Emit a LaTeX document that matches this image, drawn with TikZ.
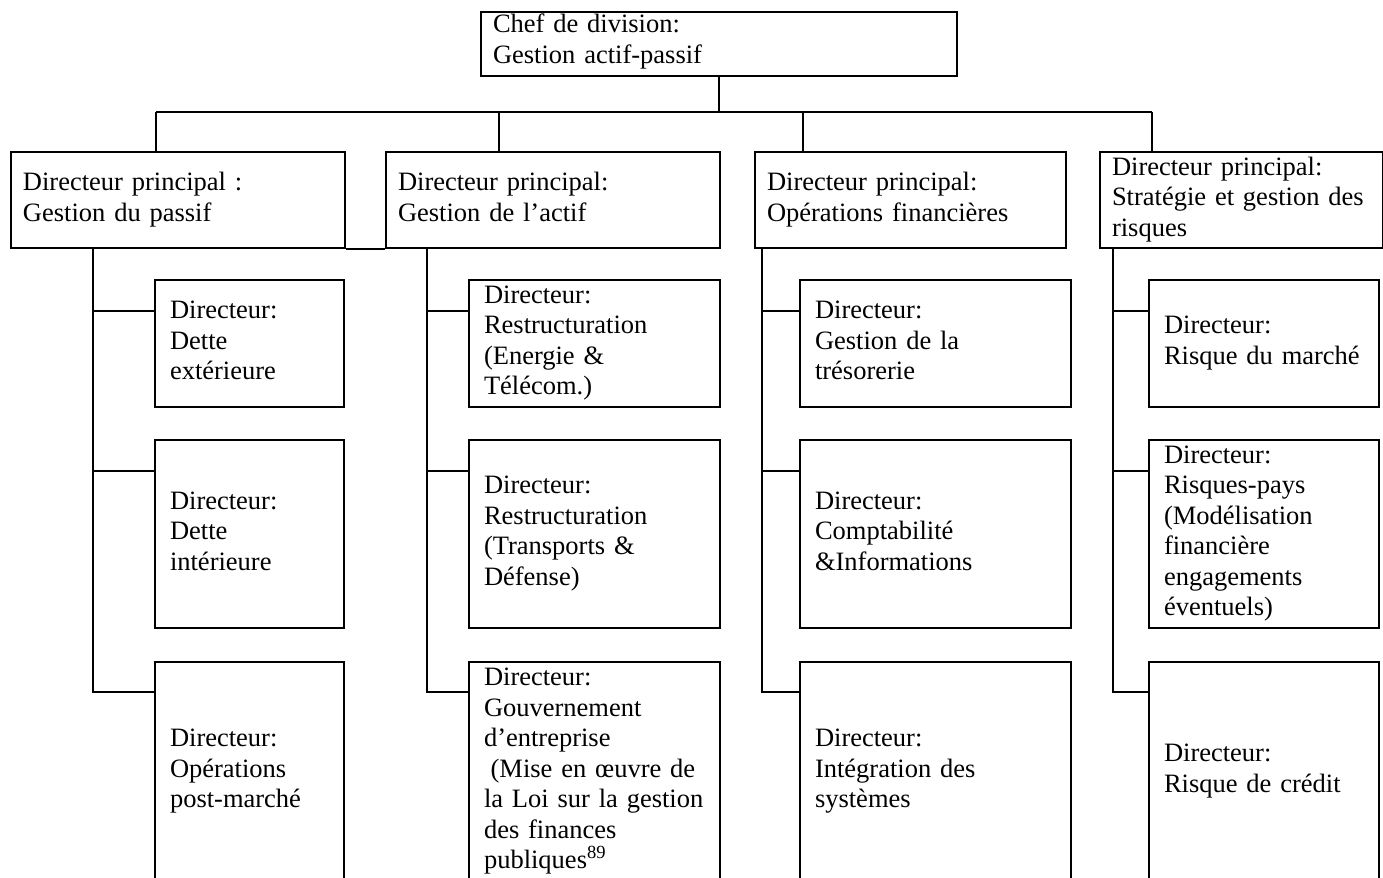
\documentclass[tikz,border=0pt]{standalone}
\usepackage{fontspec}
\setmainfont{Liberation Serif}
\usetikzlibrary{calc}
\newcommand{\fs}{\fontsize{13.25pt}{15.25pt}\selectfont}
\newcommand{\ls}{\rule[-3.22pt]{0pt}{12.03pt}}
\newcommand{\lstop}{\rule{0pt}{9.6pt}}
\newcommand{\lsbot}{\rule[-5.6pt]{0pt}{1pt}}
\tikzset{
  bx/.style={draw, line width=1pt, rectangle, inner ysep=0pt, align=left,
    anchor=north west, font=\fs, execute at begin node=\ls, execute at end node=\ls},
  pbox/.style n args={3}{bx, minimum width=#1, text width=#2, minimum height=48pt, inner xsep=6pt},
  cbox/.style n args={3}{bx, minimum width=#1, text width=#2, minimum height=#3, inner xsep=7.5pt},
  conn/.style={line width=1pt}
}
\begin{document}
\begin{tikzpicture}[x=0.5pt,y=-0.5pt]
\useasboundingbox (0,0) rectangle (1383,878);
% top
\node[bx, minimum width=238pt, text width=226pt, minimum height=32pt, inner xsep=6pt,
  execute at begin node=\lstop, execute at end node=\lsbot] (top) at (480,11)
  {Chef de division:\\Gestion actif-passif};
% level 2
\node[pbox={167pt}{155pt}{}] (p1) at (10,151) {Directeur principal :\\Gestion du passif};
\node[pbox={167pt}{155pt}{}] (p2) at (385,151) {Directeur principal:\\Gestion de l’actif};
\node[pbox={155.5pt}{143.5pt}{}] (p3) at (754,151) {Directeur principal:\\Opérations financières};
\node[pbox={141.5pt}{129.5pt}{}] (p4) at (1099,151) {Directeur principal:\\Stratégie et gestion des\\risques};
% column 1
\node[cbox={94.5pt}{79.5pt}{63.5pt}] (c11) at (154,279) {Directeur:\\Dette\\extérieure};
\node[cbox={94.5pt}{79.5pt}{94pt}] (c12) at (154,439) {Directeur:\\Dette\\intérieure};
\node[cbox={94.5pt}{79.5pt}{109.5pt}] (c13) at (154,661) {Directeur:\\Opérations\\post-marché};
% column 2
\node[cbox={125.5pt}{110.5pt}{63.5pt}] (c21) at (468,279) {Directeur:\\Restructuration\\(Energie \&\\Télécom.)};
\node[cbox={125.5pt}{110.5pt}{94pt}] (c22) at (468,439) {Directeur:\\Restructuration\\(Transports \&\\Défense)};
\node[cbox={125.5pt}{110.5pt}{109.5pt}] (c23) at (468,661) {Directeur:\\Gouvernement\\d’entreprise\\\hspace*{0.25em}(Mise en œuvre de\\la Loi sur la gestion\\des finances\\publiques\textsuperscript{89}};
% column 3
\node[cbox={135.5pt}{120.5pt}{63.5pt}] (c31) at (799,279) {Directeur:\\Gestion de la\\trésorerie};
\node[cbox={135.5pt}{120.5pt}{94pt}] (c32) at (799,439) {Directeur:\\Comptabilité\\\&Informations};
\node[cbox={135.5pt}{120.5pt}{109.5pt}] (c33) at (799,661) {Directeur:\\Intégration des\\systèmes};
% column 4
\node[cbox={115pt}{100pt}{63.5pt}] (c41) at (1148,279) {Directeur:\\Risque du marché};
\node[cbox={115pt}{100pt}{94pt}] (c42) at (1148,439) {Directeur:\\Risques-pays\\(Modélisation\\financière\\engagements\\éventuels)};
\node[cbox={115pt}{100pt}{109.5pt}] (c43) at (1148,661) {Directeur:\\Risque de crédit};
% top connectors
\coordinate (busL) at ($(p1.north west)+(146,-39)$);
\coordinate (busR) at ($(p4.north west)+(53,-39)$);
\draw[conn] (busL) -- (busR);
\draw[conn] (top.south) -- (top.south |- busL);
\draw[conn] (busL) -- (busL |- p1.north);
\draw[conn] ($(p2.north west)+(114,0)$) -- ++(0,-39);
\draw[conn] ($(p3.north west)+(49,0)$) -- ++(0,-39);
\draw[conn] (busR) -- (busR |- p4.north);
\draw[conn] (p1.south east) -- (p2.south west);
% column connectors
\coordinate (v1) at ($(p1.south west)+(83,0)$);
\coordinate (v2) at ($(p2.south west)+(42,0)$);
\coordinate (v3) at ($(p3.south west)+(8,0)$);
\coordinate (v4) at ($(p4.south west)+(14,0)$);
\foreach \c/\v in {c1/v1,c2/v2,c3/v3,c4/v4}{
  \draw[conn] ($(\c1.north west)+(0,32)$) -| (\v);
  \draw[conn] ($(\c2.north west)+(0,32)$) -| (\v);
  \draw[conn] ($(\c3.north west)+(0,31)$) -| (\v);
}
\end{tikzpicture}
\end{document}
